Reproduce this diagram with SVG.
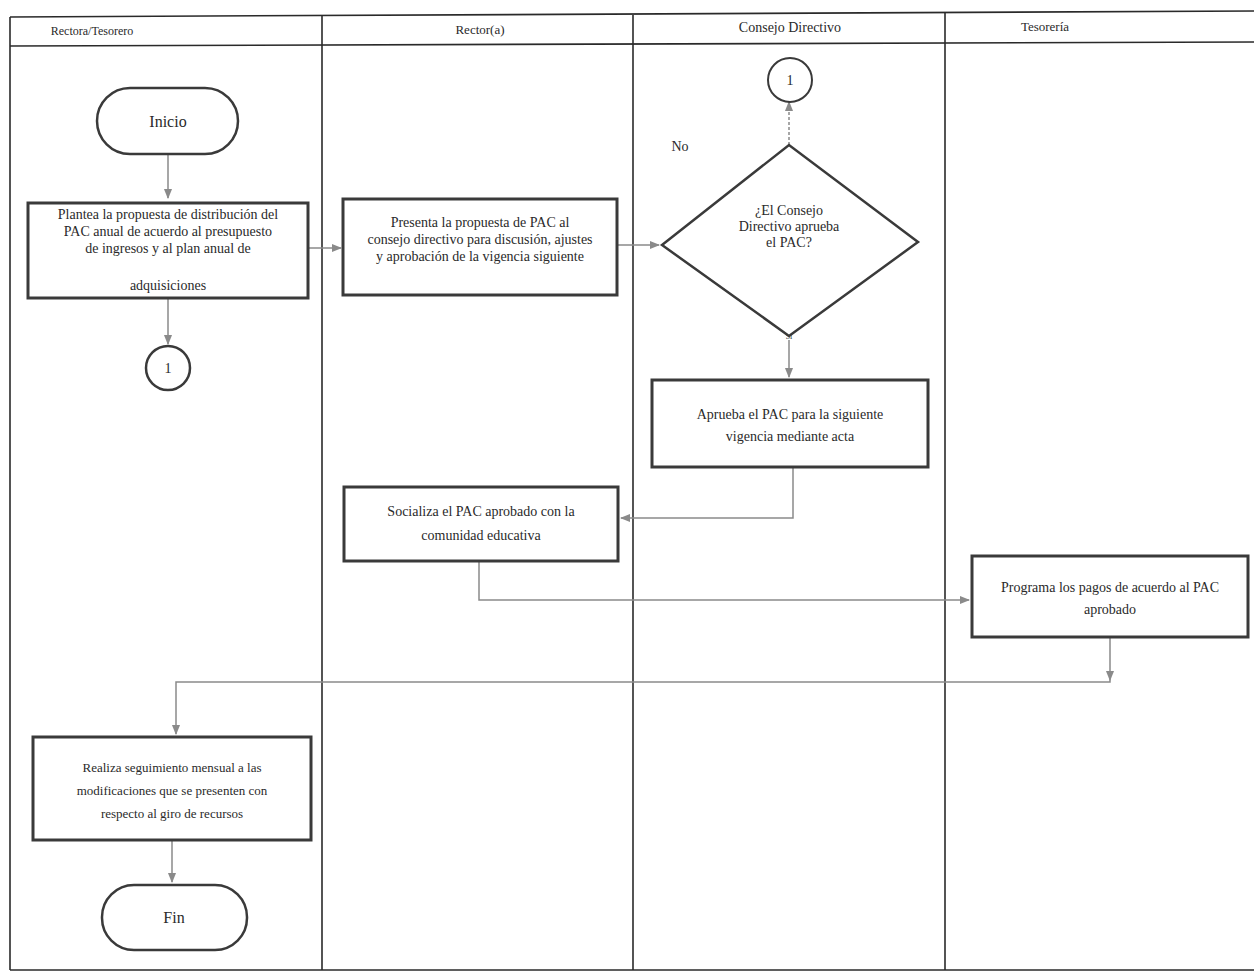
<svg xmlns="http://www.w3.org/2000/svg" width="1254" height="973" viewBox="0 0 1254 973">
<style>
text{font-family:"Liberation Serif","Times New Roman",serif;fill:#2a2a2a;text-anchor:middle}
.h{font-size:13px}
.t{font-size:14px}
.s{font-size:12px}
.big{font-size:16px}
.box{fill:#fff;stroke:#3a3a3a;stroke-width:3}
.term{fill:#fff;stroke:#3a3a3a;stroke-width:2.5}
.lane{fill:none;stroke:#2a2a2a;stroke-width:1.6}
.c{fill:none;stroke:#8a8a8a;stroke-width:1.5}
</style>
<defs>
<marker id="ah" viewBox="0 0 10 10" refX="9" refY="5" markerWidth="7" markerHeight="7" orient="auto">
<path d="M0,1 L10,5 L0,9 z" fill="#8a8a8a"/>
</marker>
</defs>
<rect width="1254" height="973" fill="#fff"/>
<g id="lanes">
<path class="lane" d="M10,17 L1254,11" stroke-width="3"/>
<path class="lane" d="M10,46 L1254,42" stroke-width="2.5"/>
<path class="lane" d="M10,17 V970"/>
<path class="lane" d="M322,16 V970"/>
<path class="lane" d="M633,15 V970"/>
<path class="lane" d="M945,13 V970"/>
<path class="lane" d="M10,970 H1254"/>
<text class="h" x="92" y="35" style="font-size:12px">Rectora/Tesorero</text>
<text class="h" x="480" y="34">Rector(a)</text>
<text class="h" x="790" y="32" style="font-size:14px">Consejo Directivo</text>
<text class="h" x="1045" y="31">Tesorería</text>
</g>
<g id="connectors">
<path class="c" d="M168,155 V198" marker-end="url(#ah)"/>
<path class="c" d="M168,298 V344" marker-end="url(#ah)"/>
<path class="c" d="M308,248 H341" marker-end="url(#ah)"/>
<path class="c" d="M617,245 H659" marker-end="url(#ah)"/>
<path class="c" d="M789,145 V102" marker-end="url(#ah)" stroke-dasharray="3,2"/>
<path class="c" d="M789,340 V377" marker-end="url(#ah)"/>
<path class="c" d="M793,467 V518 H621" marker-end="url(#ah)"/>
<path class="c" d="M479,561 V600 H969" marker-end="url(#ah)"/>
<path class="c" d="M1110,637 V680" marker-end="url(#ah)"/>
<path class="c" d="M1110,680 V682 H176 V734" marker-end="url(#ah)"/>
<path class="c" d="M172,840 V882" marker-end="url(#ah)"/>
<text class="t" x="680" y="151">No</text>
<text x="789" y="339" style="font-size:8px">Sí</text>
</g>
<g id="inicio">
<rect class="term" x="97" y="88" width="141" height="66" rx="33"/>
<text class="big" x="168" y="127">Inicio</text>
</g>
<g id="plantea">
<rect class="box" x="28" y="203" width="280" height="95"/>
<text class="t" x="168" y="219">Plantea la propuesta de distribución del</text>
<text class="t" x="168" y="236">PAC anual  de acuerdo al presupuesto</text>
<text class="t" x="168" y="253">de ingresos y al plan anual de</text>
<text class="t" x="168" y="290">adquisiciones</text>
</g>
<g id="conector1a">
<circle cx="168" cy="368" r="22" fill="#fff" stroke="#3a3a3a" stroke-width="2.5"/>
<text class="t" x="168" y="373">1</text>
</g>
<g id="presenta">
<rect class="box" x="343" y="199" width="274" height="96"/>
<text class="t" x="480" y="227">Presenta la propuesta de PAC  al</text>
<text class="t" x="480" y="244">consejo directivo para discusión, ajustes</text>
<text class="t" x="480" y="261">y aprobación de la vigencia siguiente</text>
</g>
<g id="decision">
<path d="M662,245 L789,145 L918,242 L789,336 Z" fill="#fff" stroke="#3a3a3a" stroke-width="2.5"/>
<text class="t" x="789" y="215">¿El Consejo</text>
<text class="t" x="789" y="231">Directivo aprueba</text>
<text class="t" x="789" y="247">el PAC?</text>
</g>
<g id="conector1b">
<circle cx="790" cy="80" r="22" fill="#fff" stroke="#3a3a3a" stroke-width="2"/>
<text class="t" x="790" y="85">1</text>
</g>
<g id="aprueba">
<rect class="box" x="652" y="380" width="276" height="87"/>
<text class="t" x="790" y="419">Aprueba el PAC para la siguiente</text>
<text class="t" x="790" y="441">vigencia  mediante acta</text>
</g>
<g id="socializa">
<rect class="box" x="344" y="487" width="274" height="74"/>
<text class="t" x="481" y="516">Socializa el PAC aprobado con la</text>
<text class="t" x="481" y="540">comunidad educativa</text>
</g>
<g id="programa">
<rect class="box" x="972" y="556" width="276" height="81"/>
<text class="t" x="1110" y="592">Programa los pagos de acuerdo al PAC</text>
<text class="t" x="1110" y="614">aprobado</text>
</g>
<g id="realiza">
<rect class="box" x="33" y="737" width="278" height="103"/>
<text class="t" x="172" y="772" style="font-size:13px">Realiza seguimiento mensual a las</text>
<text class="t" x="172" y="795" style="font-size:13px">modificaciones que se presenten con</text>
<text class="t" x="172" y="818" style="font-size:13px">respecto al giro de recursos</text>
</g>
<g id="fin">
<rect class="term" x="102" y="885" width="145" height="65" rx="32"/>
<text class="big" x="174" y="923">Fin</text>
</g>
</svg>
